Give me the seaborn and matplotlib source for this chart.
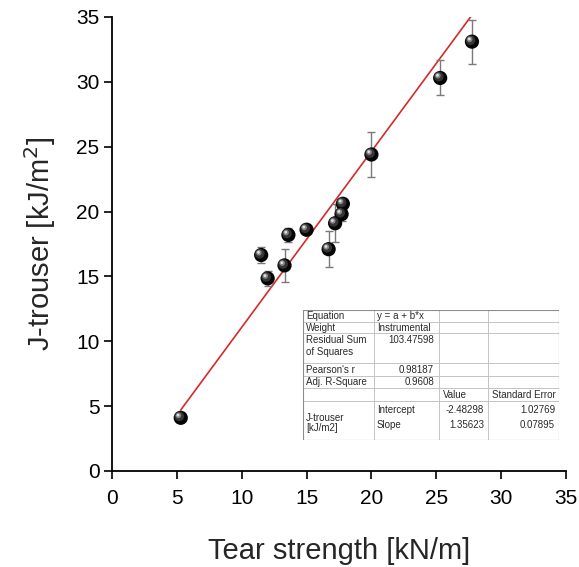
import numpy as np
import pandas as pd
import matplotlib
matplotlib.use("Agg")
import matplotlib.pyplot as plt
import matplotlib.transforms as mtransforms
import seaborn as sns

# Measured data: tear strength vs. trouser J-integral
tear_strength = [5.3, 11.5, 12.0, 13.3, 13.6, 15.0, 16.7, 17.2, 17.7, 17.8, 20.0, 25.3, 27.75]
j_trouser = [4.1, 16.65, 14.85, 15.85, 18.2, 18.6, 17.1, 19.1, 19.8, 20.6, 24.4, 30.3, 33.1]
j_error = [0.2, 0.6, 0.6, 1.3, 0.55, 0.3, 1.4, 1.45, 0.5, 0.4, 1.7, 1.35, 1.7]

# Linear fit results y = a + b*x
intercept = -2.48298
slope = 1.35623
intercept_se = 1.02769
slope_se = 0.07895
rss = 103.47598
pearson_r = 0.98187
adj_r2 = 0.9608

x_ticks = [0, 5, 10, 15, 20, 25, 30, 35]
y_ticks = [0, 5, 10, 15, 20, 25, 30, 35]

df = pd.DataFrame({"tear": tear_strength, "j": j_trouser, "err": j_error})

sns.set_style("ticks")
plt.rcParams["font.family"] = ["Liberation Sans", "DejaVu Sans"]

fig = plt.figure(figsize=(5.79, 5.67), dpi=100)
ax = fig.add_axes([112 / 579, 96 / 567, 454 / 579, 454 / 567])

# Fitted line across the measured range
fit_x = np.array([min(tear_strength), max(tear_strength)])
fit_df = pd.DataFrame({"x": fit_x, "y": intercept + slope * fit_x})
sns.lineplot(data=fit_df, x="x", y="y", ax=ax, color="#d42a2a", lw=1.2, zorder=2)

# Error bars
ax.errorbar(df["tear"], df["j"], yerr=df["err"], fmt="none", ecolor="#7a7a7a",
            elinewidth=1.0, capsize=3, capthick=1.0, zorder=3)

# Shaded spheres: dark body plus offset highlights
sns.scatterplot(data=df, x="tear", y="j", ax=ax, s=105, color="#050505",
                edgecolor="none", zorder=4, legend=False)
for size, col, dx, dy in [(48, "#353535", -1.4, 1.4), (16, "#858585", -2.3, 2.3), (4, "#e0e0e0", -2.7, 2.7)]:
    tr = mtransforms.offset_copy(ax.transData, fig=fig, x=dx, y=dy, units="dots")
    ax.scatter(df["tear"], df["j"], s=size, color=col, edgecolor="none", zorder=5, transform=tr)

ax.set_xlim(0, 35)
ax.set_ylim(0, 35)
ax.set_xticks(x_ticks)
ax.set_yticks(y_ticks)
ax.tick_params(axis="both", direction="out", length=6, width=1.2, labelsize=15, colors="black")
ax.tick_params(axis="x", pad=7)
ax.tick_params(axis="y", pad=3)
for side in ["top", "right"]:
    ax.spines[side].set_visible(False)
for side in ["left", "bottom"]:
    ax.spines[side].set_linewidth(1.3)
    ax.spines[side].set_color("black")
ax.set_xlabel("Tear strength [kN/m]", fontsize=21, labelpad=21)
ax.set_ylabel("J-trouser [kJ/m$^2$]", fontsize=21, labelpad=13)

# Fit statistics table
tab = fig.add_axes([303 / 579, (567 - 440) / 567, 256 / 579, 130 / 567])
tab.set_xlim(303, 559)
tab.set_ylim(440, 310)
tab.axis("off")
grid_c = "#c4c4c4"
col_edges = [303, 374, 439, 488, 559]
row_edges = [310, 322, 333, 363, 376, 388, 401, 440]
for yv in row_edges[1:-1]:
    tab.plot([303, 559], [yv, yv], color=grid_c, lw=0.7)
for xv in col_edges[1:-1]:
    tab.plot([xv, xv], [310, 440], color=grid_c, lw=0.7)
tab.plot([303, 559, 559, 303, 303], [310, 310, 440, 440, 310], color="#8c8c8c", lw=0.8)

fs = 7
tc = "#2a2a2a"
left_labels = [("Equation", 316), ("Weight", 328), ("Residual Sum", 340), ("of Squares", 352),
               ("Pearson's r", 370), ("Adj. R-Square", 382), ("J-trouser", 418), ("[kJ/m2]", 428)]
for txt, yv in left_labels:
    tab.text(306, yv, txt, fontsize=fs, color=tc, va="center", ha="left")
tab.text(377, 316, "y = a + b*x", fontsize=fs, color=tc, va="center", ha="left")
tab.text(377, 328, "Instrumental", fontsize=fs, color=tc, va="center", ha="left")
tab.text(434, 340, f"{rss:.5f}", fontsize=fs, color=tc, va="center", ha="right")
tab.text(434, 370, f"{pearson_r:.5f}", fontsize=fs, color=tc, va="center", ha="right")
tab.text(434, 382, f"{adj_r2:.4f}", fontsize=fs, color=tc, va="center", ha="right")
tab.text(443, 395, "Value", fontsize=fs, color=tc, va="center", ha="left")
tab.text(492, 395, "Standard Error", fontsize=fs, color=tc, va="center", ha="left")
tab.text(377, 410, "Intercept", fontsize=fs, color=tc, va="center", ha="left")
tab.text(377, 425, "Slope", fontsize=fs, color=tc, va="center", ha="left")
tab.text(484, 410, f"{intercept:.5f}", fontsize=fs, color=tc, va="center", ha="right")
tab.text(484, 425, f"{slope:.5f}", fontsize=fs, color=tc, va="center", ha="right")
tab.text(555, 410, f"{intercept_se:.5f}", fontsize=fs, color=tc, va="center", ha="right")
tab.text(555, 425, f"{slope_se:.5f}", fontsize=fs, color=tc, va="center", ha="right")

fig.savefig("out.png", dpi=100, facecolor="white")
